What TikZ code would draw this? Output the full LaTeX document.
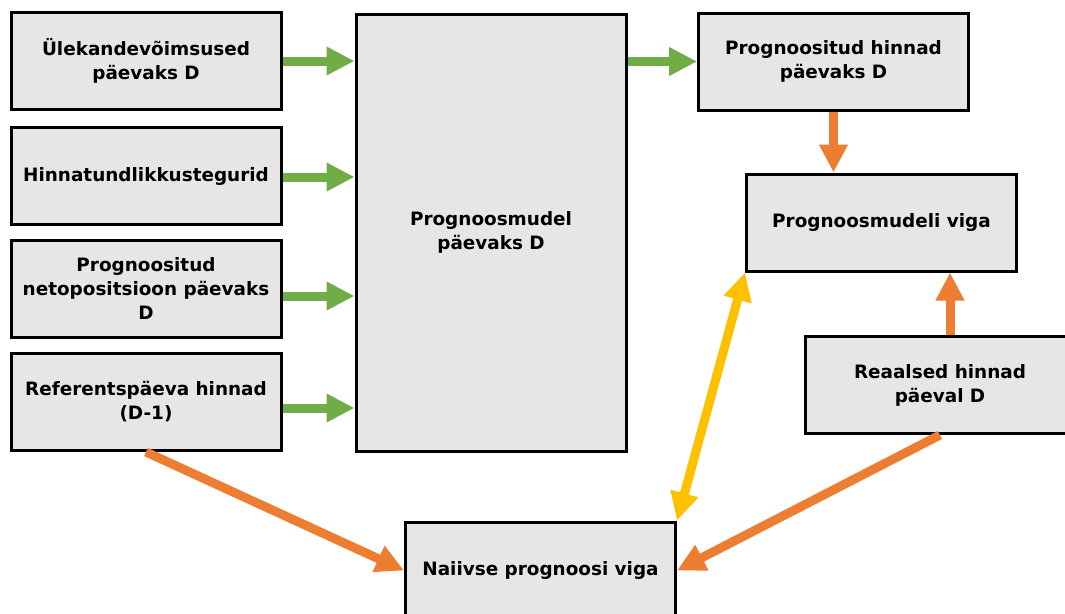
\documentclass[tikz,border=0pt]{standalone}
\usepackage{fontspec}
\setmainfont{DejaVu Sans}
\usetikzlibrary{arrows.meta}
\definecolor{boxfill}{HTML}{E6E6E6}
\definecolor{flowgreen}{HTML}{70AD47}
\definecolor{floworange}{HTML}{ED7D31}
\definecolor{flowyellow}{HTML}{FFC000}

\begin{document}
\begin{tikzpicture}[x=0.75pt,y=-0.75pt,
  blk/.style={draw=black, line width=2.25pt, fill=boxfill, align=center,
    inner sep=0pt, font=\bfseries\fontsize{13.8pt}{18pt}\selectfont,
    minimum width=202.5pt, minimum height=72.75pt},
  flow/.style={line width=6.75pt, -{Triangle[length=21pt,width=20.25pt]}},
  biflow/.style={line width=6.75pt,
    {Triangle[length=21pt,width=20.25pt]}-{Triangle[length=21pt,width=20.25pt]}}]
\useasboundingbox (0,0) rectangle (1065,614);
\clip (0,0) rectangle (1065,614);

% input boxes
\node[blk] (in1) at (146,61)  {Ülekandevõimsused\\päevaks D};
\node[blk] (in2) at (146,176) {Hinnatundlikkustegurid};
\node[blk] (in3) at (146,289) {Prognoositud\\netopositsioon päevaks\\D};
\node[blk] (ref) at (146,402) {Referentspäeva hinnad\\(D-1)};

% model
\node[blk, minimum height=327.75pt] (model) at (491,232.5) {Prognoosmudel\\päevaks D};

% outputs and errors
\node[blk] (progh) at (833.5,61.5) {Prognoositud hinnad\\päevaks D};
\node[blk] (viga)  at (881.5,222.5) {Prognoosmudeli viga};
\node[blk] (real)  at (940,385) {Reaalsed hinnad\\päeval D};
\node[blk] (naive) at (540.5,570.5) {Naiivse prognoosi viga};

% inputs into the model
\draw[flow, flowgreen] (in1.east) -- (in1.east -| model.west);
\draw[flow, flowgreen] ([yshift=-0.75pt]in2.east) -- ([yshift=-0.75pt]in2.east -| model.west);
\draw[flow, flowgreen] ([yshift=-5.25pt]in3.east) -- ([yshift=-5.25pt]in3.east -| model.west);
\draw[flow, flowgreen] ([yshift=-4.5pt]ref.east) -- ([yshift=-4.5pt]ref.east -| model.west);

% model output
\draw[flow, flowgreen] (model.east |- progh.west) -- (progh.west);

% error computations
\draw[flow, floworange] (progh.south) -- (progh.south |- viga.north);
\draw[flow, floworange] ([xshift=7.5pt]real.north) -- ([xshift=7.5pt]real.north |- viga.south);
\draw[flow, floworange] (ref.south) -- (naive.west);
\draw[flow, floworange] (real.south) -- (naive.east);

% comparison of the two errors
\draw[biflow, flowyellow] (naive.north east) -- (viga.south west);
\end{tikzpicture}
\end{document}
